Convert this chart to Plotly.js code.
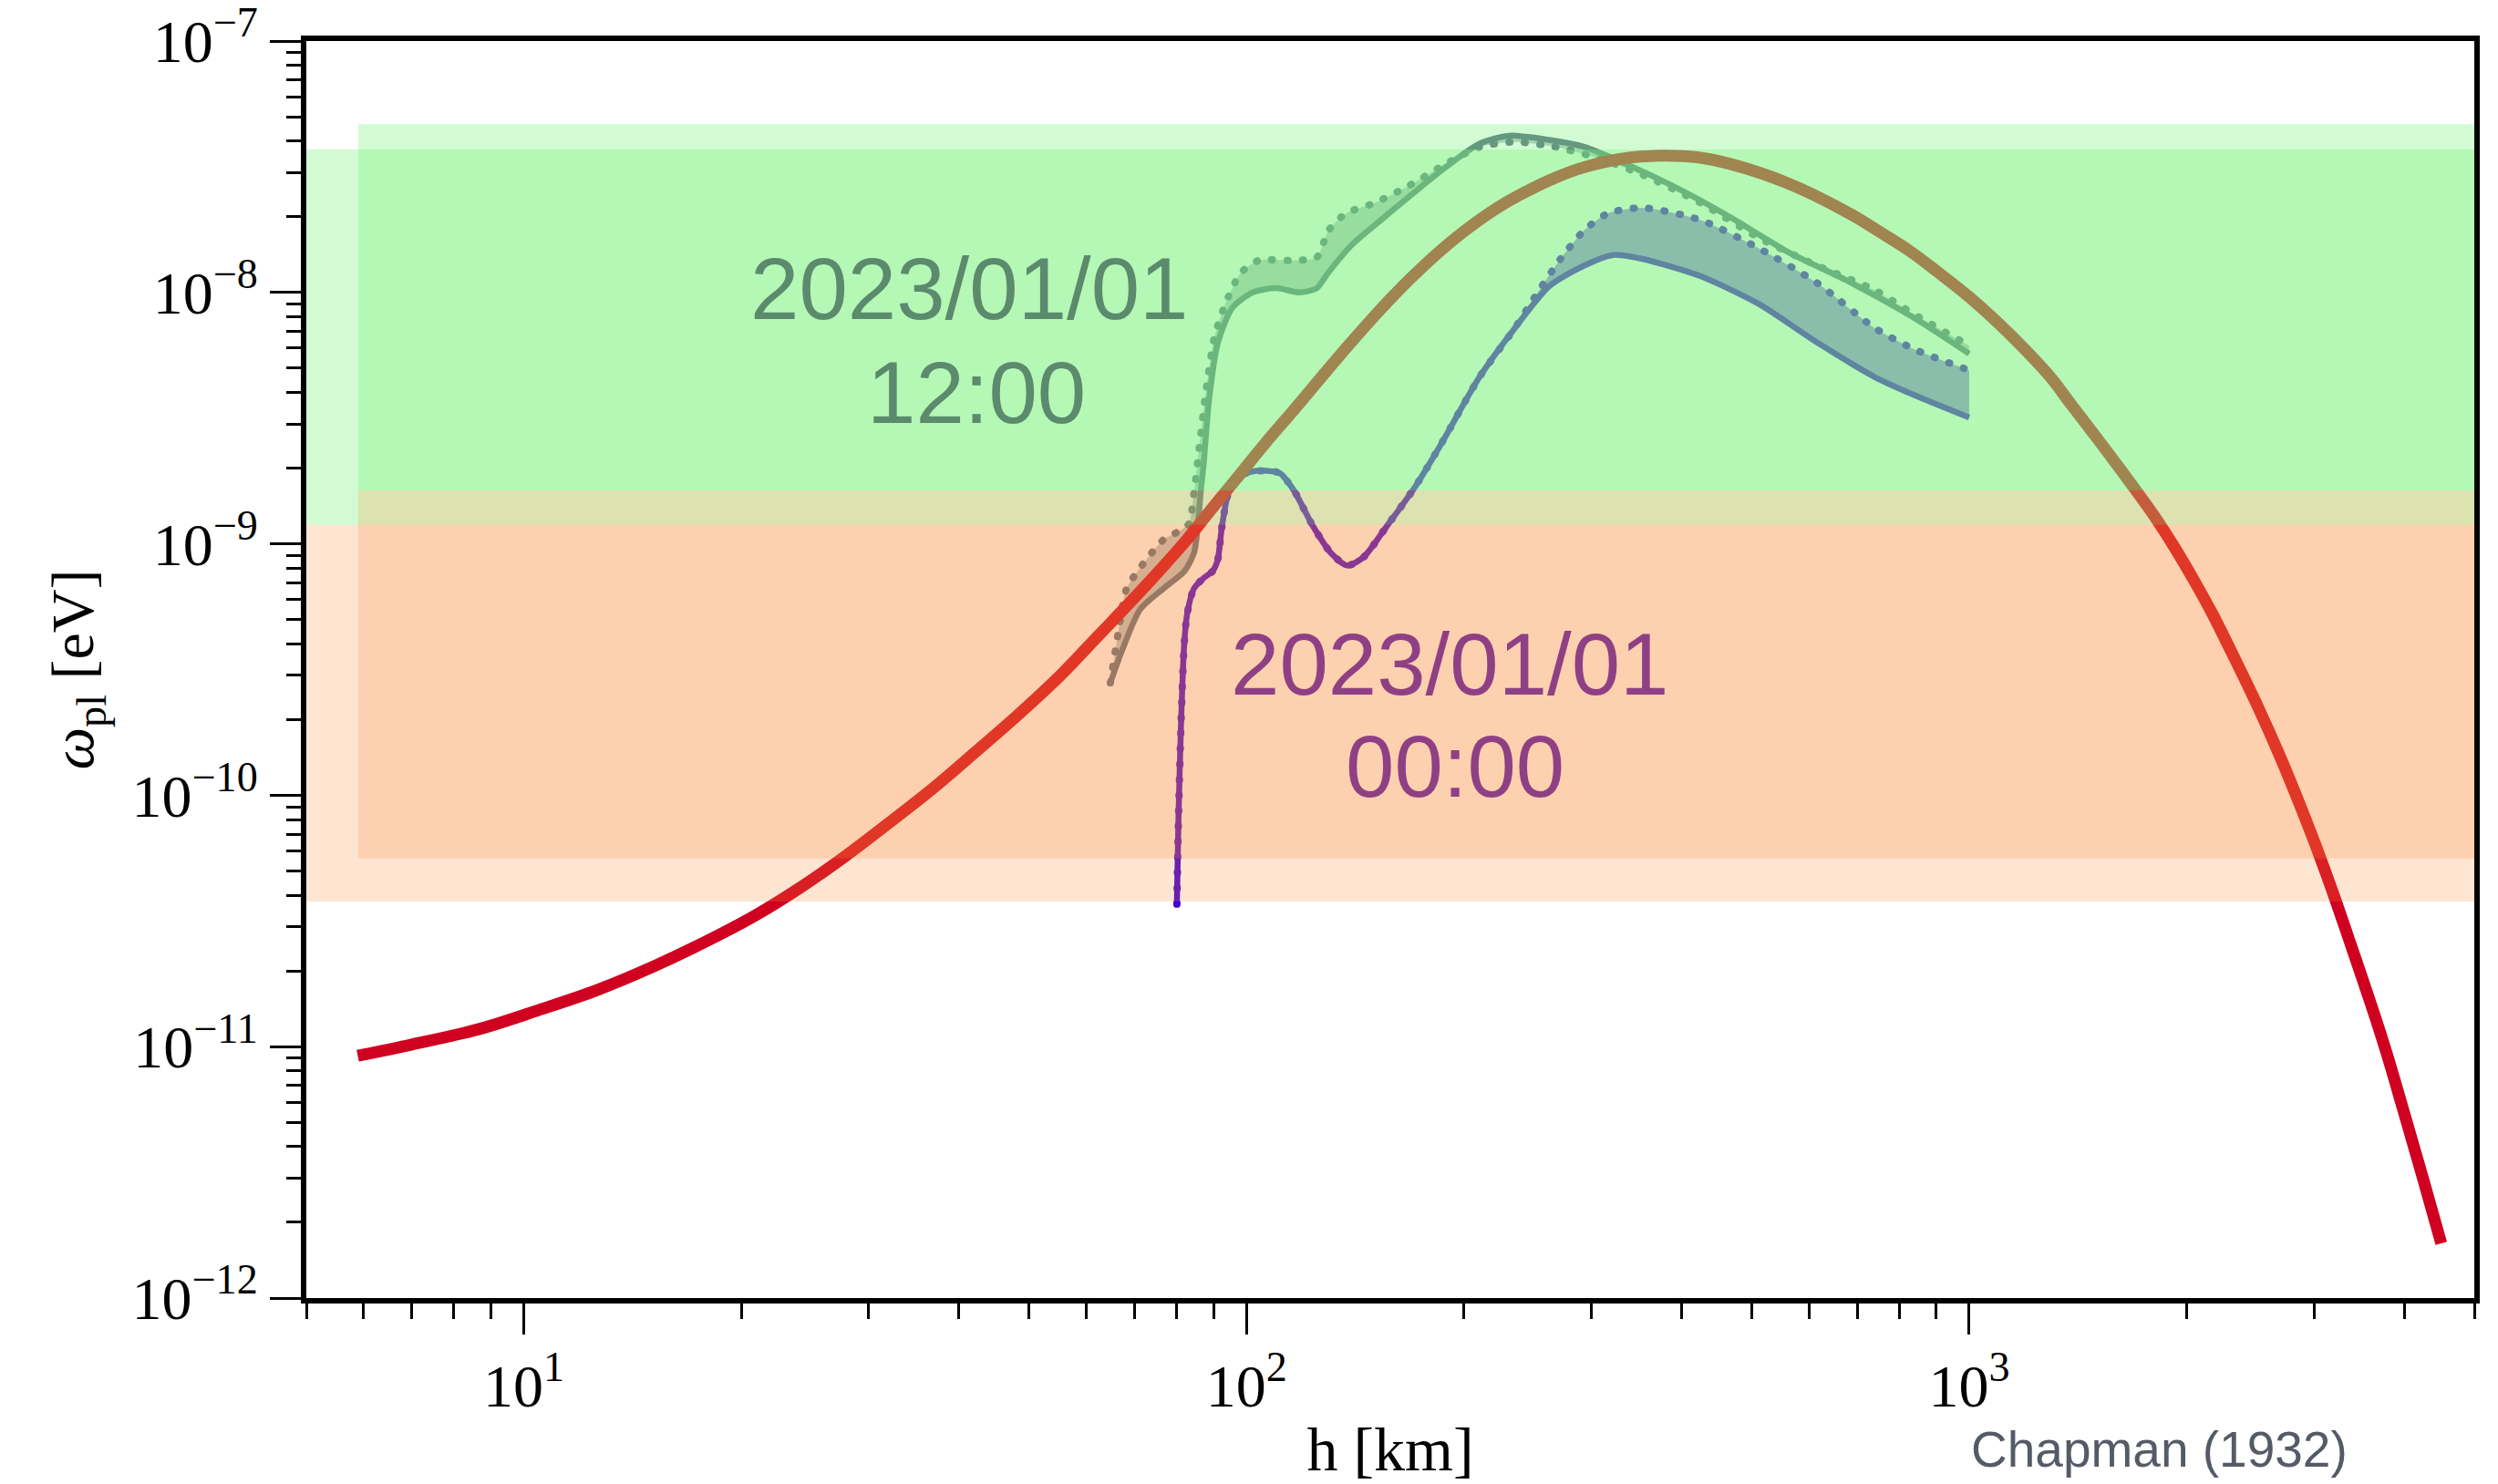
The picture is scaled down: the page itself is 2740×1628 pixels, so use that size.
<!DOCTYPE html>
<html>
<head>
<meta charset="utf-8">
<script src="https://cdn.plot.ly/plotly-3.0.1.min.js"></script>
<style>
html,body{margin:0;padding:0;background:#fff;}
.scatterlayer path.js-line[style*="dasharray: 1px"]{stroke-linecap:round;}
</style>
</head>
<body>
<div id="chart" style="width:2740px;height:1628px;"></div>
<script>
// ---- data (h in km, omega_pl in eV) ----
const chapmanH = [5.89, 7.0, 8.72, 10.5, 12.63, 15.2, 18.29, 21, 24.15, 27.8, 31.9, 36.6, 42.1, 48.4, 55.6, 62.3, 69.4, 75.7, 82.0, 89, 96.6, 106, 116.2, 127.7, 140, 153.5, 168.3, 184.7, 202.6, 222.4, 243.9, 267.5, 293.4, 330, 373, 420, 466, 561, 675, 750, 828, 910, 1000, 1100, 1200, 1300, 1382, 1500, 1671, 1800, 1927, 2050, 2168, 2330, 2500, 2700, 2884, 3050, 3211, 3350, 3488, 3640, 3791, 3980, 4168, 4330, 4500];
const chapmanW = [9.2e-12, 1.02e-11, 1.18e-11, 1.4e-11, 1.68e-11, 2.1e-11, 2.71e-11, 3.35e-11, 4.3e-11, 5.7e-11, 7.7e-11, 1.05e-10, 1.48e-10, 2.1e-10, 3.05e-10, 4.3e-10, 5.95e-10, 7.8e-10, 1.01e-9, 1.35e-9, 1.8e-9, 2.5e-9, 3.4e-9, 4.7e-9, 6.4e-9, 8.6e-9, 1.13e-8, 1.45e-8, 1.8e-8, 2.17e-8, 2.52e-8, 2.86e-8, 3.15e-8, 3.4e-8, 3.5e-8, 3.45e-8, 3.25e-8, 2.72e-8, 2.1e-8, 1.75e-8, 1.46e-8, 1.19e-8, 9.6e-9, 7.5e-9, 5.85e-9, 4.55e-9, 3.6e-9, 2.65e-9, 1.75e-9, 1.3e-9, 9.6e-10, 7.1e-10, 5.3e-10, 3.5e-10, 2.3e-10, 1.4e-10, 8.8e-11, 5.8e-11, 3.85e-11, 2.7e-11, 1.92e-11, 1.33e-11, 9.2e-12, 5.7e-12, 3.6e-12, 2.45e-12, 1.65e-12];

// 2023/01/01 00:00 profile
const nightH = [80.1, 80.5, 81.2, 82.0, 82.8, 84.6, 87.2, 89.8, 91.2, 92.5, 94.6, 97.5, 101.8, 107, 111.2, 116.3, 123.5, 131.0, 137.9, 145.3, 156.5, 171.0, 186, 210, 235, 262.5, 293.4, 321.7, 353, 425, 511.5, 615.6, 741, 840, 1000];
const nightSolid = [3.69e-11, 8.0e-11, 2.0e-10, 4.0e-10, 5.3e-10, 6.65e-10, 7.3e-10, 7.8e-10, 8.6e-10, 1.18e-9, 1.63e-9, 1.85e-9, 1.94e-9, 1.95e-9, 1.91e-9, 1.63e-9, 1.18e-9, 9.16e-10, 8.2e-10, 8.87e-10, 1.18e-9, 1.68e-9, 2.5e-9, 4.6e-9, 7.2e-9, 1.06e-8, 1.28e-8, 1.41e-8, 1.36e-8, 1.16e-8, 9.0e-9, 6.33e-9, 4.6e-9, 3.9e-9, 3.18e-9];
const nightDotH = [80.1, 80.5, 81.2, 82.0, 82.8, 84.6, 87.2, 89.8, 91.2, 92.5, 94.6, 97.5, 101.8, 107, 111.2, 116.3, 123.5, 131.0, 137.9, 145.3, 156.5, 171.0, 186, 210, 235, 250, 272, 293, 316, 353, 425, 511, 616, 741, 840, 1000];
const nightDotted = [3.69e-11, 8.0e-11, 2.0e-10, 4.0e-10, 5.3e-10, 6.65e-10, 7.3e-10, 7.8e-10, 8.6e-10, 1.18e-9, 1.63e-9, 1.85e-9, 1.94e-9, 1.95e-9, 1.91e-9, 1.63e-9, 1.18e-9, 9.16e-10, 8.2e-10, 8.87e-10, 1.18e-9, 1.68e-9, 2.5e-9, 4.6e-9, 7.2e-9, 9.5e-9, 1.36e-8, 1.76e-8, 2.06e-8, 2.17e-8, 1.94e-8, 1.5e-8, 1.09e-8, 7.2e-9, 5.94e-9, 4.9e-9];

// 2023/01/01 12:00 profile
const dayH = [64.8, 67.2, 71.3, 76.8, 82.1, 84.6, 85.6, 86.4, 87.2, 88.8, 91.3, 95.6, 102.0, 109.9, 118.4, 125.1, 129.8, 140, 153.4, 168.3, 188.1, 210.2, 230.7, 262.5, 293.4, 328, 387, 466, 561, 675, 840, 1000];
const daySolid = [2.8e-10, 3.74e-10, 5.5e-10, 6.65e-10, 7.8e-10, 9.2e-10, 1.16e-9, 1.6e-9, 2.05e-9, 3.8e-9, 6.33e-9, 8.7e-9, 1.0e-8, 1.04e-8, 1.0e-8, 1.04e-8, 1.2e-8, 1.55e-8, 1.94e-8, 2.42e-8, 3.13e-8, 3.91e-8, 4.2e-8, 4.04e-8, 3.79e-8, 3.33e-8, 2.67e-8, 2.0e-8, 1.45e-8, 1.12e-8, 7.9e-9, 5.7e-9];
const dayDotH = [64.8, 66.5, 68.2, 71.3, 76.8, 80.5, 83.2, 84.6, 86.0, 88.0, 90.4, 93.9, 98.3, 103.9, 116.2, 125.1, 129.8, 137.2, 150.5, 168.3, 188.1, 210.2, 235, 267.5, 304.6, 353, 425, 511.5, 615.6, 741, 840, 1000];
const dayDotted = [2.8e-10, 4.5e-10, 6.6e-10, 8.05e-10, 1.04e-9, 1.12e-9, 1.2e-9, 1.6e-9, 2.4e-9, 4.18e-9, 6.75e-9, 9.29e-9, 1.2e-8, 1.34e-8, 1.34e-8, 1.38e-8, 1.76e-8, 2.06e-8, 2.27e-8, 2.67e-8, 3.23e-8, 3.79e-8, 3.97e-8, 3.79e-8, 3.44e-8, 2.94e-8, 2.27e-8, 1.65e-8, 1.28e-8, 1.02e-8, 8.17e-9, 6.15e-9];

// bands: [lower, upper] in eV
const greenWide = [1.19e-9, 3.7e-8];
const greenNarrow = [1.63e-9, 4.67e-8];
const orangeWide = [3.78e-11, 1.19e-9];
const orangeNarrow = [5.6e-11, 1.63e-9];
const bandNarrowStartH = 5.9;

// ticks
const xTickVals = [10, 100, 1000];
const xTickText = ['10<sup>1</sup>', '10<sup>2</sup>', '10<sup>3</sup>'];
const yTickVals = [1e-12, 1e-11, 1e-10, 1e-9, 1e-8, 1e-7];
const yTickText = ['10<sup>−12</sup>', '10<sup>−11</sup>', '10<sup>−10</sup>', '10<sup>−9</sup>', '10<sup>−8</sup>', '10<sup>−7</sup>'];

const xMinor = [];
for (let e = 0; e <= 3; e++) for (let m = 2; m <= 9; m++) { const v = m * Math.pow(10, e); if (v >= 5 && v <= 5000) xMinor.push(v); }
const yMinor = [];
for (let e = -12; e < -7; e++) for (let m = 2; m <= 9; m++) yMinor.push(m * Math.pow(10, e));

const nightColor = 'rgb(65,0,210)';
const dayColor = 'rgb(90,110,130)';
const dotDash = '1px,16px';

const traces = [
  {x: nightH, y: nightSolid, mode: 'lines', line: {color: nightColor, width: 6.5, shape: 'spline', smoothing: 0.7}, hoverinfo: 'skip'},
  {x: nightDotH, y: nightDotted, mode: 'lines', line: {color: nightColor, width: 8, dash: dotDash, shape: 'spline', smoothing: 0.7}, fill: 'tonexty', fillcolor: 'rgba(65,0,210,0.5)', hoverinfo: 'skip'},
  {x: dayH, y: daySolid, mode: 'lines', line: {color: dayColor, width: 6.5, shape: 'spline', smoothing: 0.7}, hoverinfo: 'skip'},
  {x: dayDotH, y: dayDotted, mode: 'lines', line: {color: dayColor, width: 8, dash: dotDash, shape: 'spline', smoothing: 0.7}, fill: 'tonexty', fillcolor: 'rgba(90,110,130,0.4)', hoverinfo: 'skip'},
  {x: chapmanH, y: chapmanW, mode: 'lines', line: {color: '#d00020', width: 13, shape: 'spline', smoothing: 1}, hoverinfo: 'skip'}
];

const greenFill = 'rgba(120,244,120,0.33)';
const orangeFill = 'rgba(249,140,55,0.225)';
const shapes = [
  {type: 'rect', layer: 'above', xref: 'paper', yref: 'y', x0: 0, x1: 1, y0: orangeWide[0], y1: orangeWide[1], fillcolor: orangeFill, line: {width: 0}},
  {type: 'rect', layer: 'above', xref: 'paper', yref: 'y', x0: 0, x1: 1, y0: greenWide[0], y1: greenWide[1], fillcolor: greenFill, line: {width: 0}},
  {type: 'rect', layer: 'above', xref: 'x', yref: 'y', x0: bandNarrowStartH, x1: 5000, y0: orangeNarrow[0], y1: orangeNarrow[1], fillcolor: orangeFill, line: {width: 0}},
  {type: 'rect', layer: 'above', xref: 'x', yref: 'y', x0: bandNarrowStartH, x1: 5000, y0: greenNarrow[0], y1: greenNarrow[1], fillcolor: greenFill, line: {width: 0}}
];

const sans = 'Liberation Sans, Arial, sans-serif';
const serif = 'Liberation Serif, Times New Roman, serif';
const annotations = [
  {xref: 'paper', yref: 'paper', x: 0.3057, y: 0.8028, text: '2023/01/01', showarrow: false, xanchor: 'center', yanchor: 'middle', font: {family: sans, size: 96, color: '#5b8a6d'}},
  {xref: 'paper', yref: 'paper', x: 0.3091, y: 0.7201, text: '12:00', showarrow: false, xanchor: 'center', yanchor: 'middle', font: {family: sans, size: 96, color: '#5b8a6d'}},
  {xref: 'paper', yref: 'paper', x: 0.5273, y: 0.5047, text: '2023/01/01', showarrow: false, xanchor: 'center', yanchor: 'middle', font: {family: sans, size: 96, color: '#8f4084'}},
  {xref: 'paper', yref: 'paper', x: 0.5299, y: 0.4228, text: '00:00', showarrow: false, xanchor: 'center', yanchor: 'middle', font: {family: sans, size: 96, color: '#8f4084'}},
  {xref: 'paper', yref: 'paper', x: 0.8549, y: -0.1204, text: 'Chapman (1932)', showarrow: false, xanchor: 'center', yanchor: 'middle', font: {family: sans, size: 55, color: '#555b66'}}
];

const axisCommon = {
  type: 'log', showgrid: false, zeroline: false,
  showline: true, linewidth: 6, linecolor: '#000', mirror: true,
  ticks: 'outside', ticklen: 34, tickwidth: 3, tickcolor: '#000',
  tickmode: 'array', ticklabeloverflow: 'allow'
};

const layout = {
  width: 2740, height: 1628,
  margin: {l: 336, r: 26, t: 45, b: 204, pad: 0},
  paper_bgcolor: '#fff', plot_bgcolor: '#fff',
  showlegend: false,
  xaxis: Object.assign({}, axisCommon, {
    range: [Math.log10(5), Math.log10(5000)],
    tickvals: xTickVals, ticktext: xTickText,
    tickfont: {family: serif, size: 66, color: '#000'},
    minor: {tickmode: 'array', tickvals: xMinor, ticks: 'outside', ticklen: 17, tickwidth: 3, tickcolor: '#000', showgrid: false},
    title: {text: 'h [km]', font: {family: serif, size: 68, color: '#000'}, standoff: 20}
  }),
  yaxis: Object.assign({}, axisCommon, {
    range: [-12, -7],
    tickvals: yTickVals, ticktext: yTickText,
    tickfont: {family: serif, size: 66, color: '#000'},
    minor: {tickmode: 'array', tickvals: yMinor, ticks: 'outside', ticklen: 16, tickwidth: 3, tickcolor: '#000', showgrid: false},
    title: {text: '<i>ω</i><sub>pl</sub> [eV]', font: {family: serif, size: 66, color: '#000'}, standoff: 22}
  }),
  shapes: shapes,
  annotations: annotations
};

Plotly.newPlot('chart', traces, layout, {displayModeBar: false, staticPlot: true});
</script>
</body>
</html>
